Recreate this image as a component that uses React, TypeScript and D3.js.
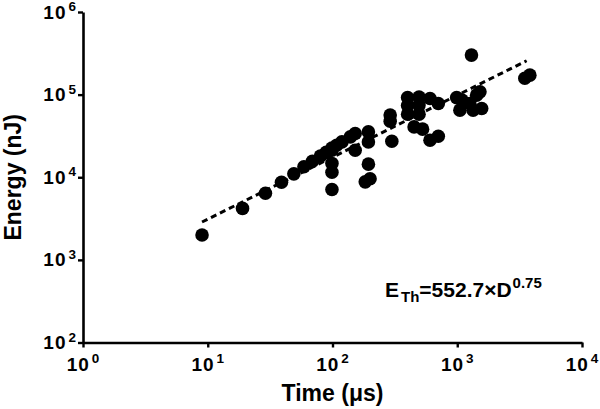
import React, { useEffect, useRef } from "react";
import * as d3 from "d3";

// pulse duration (µs) vs threshold energy (nJ)
const timeUs = [
  9, 19, 29, 39, 49, 59, 69, 80, 89, 99, 108, 119, 139,
  99, 99, 99, 99,
  152, 152, 194, 194, 194, 183, 200,
  290, 290, 299,
  400, 400, 400, 494, 494, 494, 605, 705,
  451, 527, 605, 705,
  989, 1090, 1050, 1260, 1430, 1520, 1340, 1570,
  1300, 3480, 3820,
];
const energyNJ = [
  2000, 4200, 6400, 8700, 11000, 13400, 15600, 18000, 20000, 22500, 24400, 26800, 30800,
  21200, 14700, 11500, 7100,
  33900, 21200, 35400, 26800, 14400, 8800, 9600,
  56500, 47700, 27300,
  92000, 73600, 58000, 93300, 74700, 58000, 89900, 78200,
  40700, 38200, 28100, 31400,
  92000, 85700, 64900, 78200, 98600, 108000, 64900, 68000,
  301000, 158000, 172000,
];

// fit: E_Th = 552.7 × D^0.75
const fitCoef = 552.7;
const fitExp = 0.75;
const fitRange = [9, 3600];

const xTicks = [1, 10, 100, 1000, 10000];
const yTicks = [100, 1000, 10000, 100000, 1000000];

const FONT = "'Liberation Sans', Arial, Helvetica, sans-serif";

const App = () => {
  const svgRef = useRef(null);

  useEffect(() => {
    const svg = d3.select(svgRef.current);
    svg.selectAll("*").remove();

    const x = d3.scaleLog().domain([1, 10000]).range([83, 582]);
    const y = d3.scaleLog().domain([100, 1000000]).range([342.5, 12]);

    const g = svg.append("g").style("font-family", FONT);

    // fit line
    const fitData = fitRange.map(d => [d, fitCoef * Math.pow(d, fitExp)]);
    g.append("path")
      .datum(fitData)
      .attr("fill", "none")
      .attr("stroke", "#000")
      .attr("stroke-width", 3)
      .attr("stroke-dasharray", "6,4")
      .attr("d", d3.line().x(d => x(d[0])).y(d => y(d[1])));

    // points
    g.selectAll(".pt")
      .data(timeUs.map((t, i) => [t, energyNJ[i]]))
      .enter()
      .append("circle")
      .attr("class", "pt")
      .attr("cx", d => x(d[0]))
      .attr("cy", d => y(d[1]))
      .attr("r", 6.8)
      .attr("fill", "#000");

    // axes
    const xAxis = g.append("g")
      .attr("transform", `translate(0, ${y.range()[0]})`)
      .call(d3.axisBottom(x).tickValues(xTicks).tickFormat(() => "").tickSize(5).tickSizeOuter(0));
    const yAxis = g.append("g")
      .attr("transform", `translate(${x.range()[0]}, 0)`)
      .call(d3.axisLeft(y).tickValues(yTicks).tickFormat(() => "").tickSize(5).tickSizeOuter(0));
    [xAxis, yAxis].forEach(a => {
      a.select(".domain").attr("stroke-width", 2.6).attr("stroke", "#000");
      a.selectAll(".tick line").attr("stroke-width", 2.4).attr("stroke", "#000");
    });

    // x tick labels (10^n)
    xTicks.forEach(v => {
      const t = g.append("text")
        .attr("x", x(v))
        .attr("y", 371)
        .attr("text-anchor", "middle")
        .style("font-weight", "bold")
        .style("font-size", "19px");
      t.append("tspan").style("letter-spacing", "1px").text("10");
      t.append("tspan")
        .attr("dx", 2)
        .attr("dy", -8)
        .style("font-size", "13.5px")
        .text(String(Math.round(Math.log10(v))));
    });

    // y tick labels
    yTicks.forEach(v => {
      const t = g.append("text")
        .attr("x", 76)
        .attr("y", y(v) + 6.5)
        .attr("text-anchor", "end")
        .style("font-weight", "bold")
        .style("font-size", "19px");
      t.append("tspan").style("letter-spacing", "1px").text("10");
      t.append("tspan")
        .attr("dx", 2)
        .attr("dy", -7.5)
        .style("font-size", "13.5px")
        .text(String(Math.round(Math.log10(v))));
    });

    // axis titles
    g.append("text")
      .attr("x", (x.range()[0] + x.range()[1]) / 2)
      .attr("y", 401)
      .attr("text-anchor", "middle")
      .style("font-weight", "bold")
      .style("font-size", "23px")
      .text("Time (\u03bcs)");

    g.append("text")
      .attr("transform", `translate(21, ${(y.range()[0] + y.range()[1]) / 2}) rotate(-90)`)
      .attr("text-anchor", "middle")
      .style("font-weight", "bold")
      .style("font-size", "23px")
      .text("Energy (nJ)");

    // equation
    const eq = g.append("text")
      .attr("x", 385)
      .attr("y", 296.5)
      .style("font-weight", "bold")
      .style("font-size", "21px");
    eq.append("tspan").text("E");
    eq.append("tspan").attr("dx", 2).attr("dy", 5).style("font-size", "15px").text("Th");
    eq.append("tspan").attr("dy", -5).text("=552.7\u00d7D");
    eq.append("tspan").attr("dx", 1).attr("dy", -9).style("font-size", "15px").text("0.75");
  }, []);

  return (
    <div style={{ position: "absolute", left: 0, top: 0 }}>
      <svg ref={svgRef} width={600} height={409} style={{ display: "block", background: "#fff" }} />
    </div>
  );
};

export default App;
